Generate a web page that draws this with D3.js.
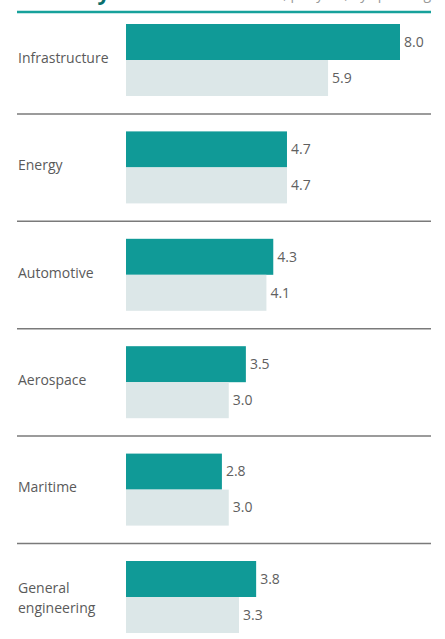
<!DOCTYPE html>
<html>
<head>
<meta charset="utf-8">
<script src="https://cdn.jsdelivr.net/npm/d3@7"></script>
<style>
  html, body { margin: 0; padding: 0; background: #fff; }
  svg { display: block; font-family: "Open Sans", "Noto Sans", sans-serif; }
</style>
</head>
<body>
<svg id="chart" width="445" height="639"></svg>
<script>
const categories = ["Infrastructure", "Energy", "Automotive", "Aerospace", "Maritime", "General engineering"];
const seriesNames = ["Current", "Previous"];
const currentValues = [8.0, 4.7, 4.3, 3.5, 2.8, 3.8];
const previousValues = [5.9, 4.7, 4.1, 3.0, 3.0, 3.3];
const seriesColors = ["#109a97", "#dce7e8"];

const svg = d3.select("#chart");
const left = 17, right = 431, barX0 = 126;

const x = d3.scaleLinear().domain([0, 8]).range([barX0, 400]);
const y = d3.scaleBand().domain(categories).range([6, 650.4]).padding(0);
const ySub = d3.scaleBand().domain(seriesNames).range([18, 90]).padding(0);

// Title remnants (clipped at the top edge, as in the reference)
svg.append("text").attr("x", left).attr("y", 0)
  .attr("font-size", 22).attr("font-weight", 700).attr("fill", "#0b6f6c")
  .text("Industry");
svg.append("text").attr("x", right).attr("y", -1.5).attr("text-anchor", "end")
  .attr("font-size", 14).attr("fill", "#999")
  .text("£bn, per year, by spending");

// Top teal rule
svg.append("line").attr("x1", left).attr("x2", right).attr("y1", 12).attr("y2", 12)
  .attr("stroke", "#17a19b").attr("stroke-width", 2.5);

const rows = categories.map((c, i) => ({
  cat: c,
  vals: [ {s: seriesNames[0], v: currentValues[i]}, {s: seriesNames[1], v: previousValues[i]} ]
}));

const g = svg.selectAll("g.row").data(rows).join("g")
  .attr("class", "row")
  .attr("transform", d => `translate(0,${y(d.cat)})`);

g.filter((d, i) => i > 0).append("line")
  .attr("x1", left).attr("x2", right).attr("y1", 0.5).attr("y2", 0.5)
  .attr("stroke", "#7a7a7a").attr("stroke-width", 1.5);

g.selectAll("rect").data(d => d.vals).join("rect")
  .attr("x", x(0))
  .attr("y", d => ySub(d.s))
  .attr("width", d => x(d.v) - x(0))
  .attr("height", ySub.bandwidth())
  .attr("fill", (d, i) => seriesColors[i]);

g.selectAll("text.val").data(d => d.vals).join("text")
  .attr("class", "val")
  .attr("x", d => x(d.v) + 4)
  .attr("y", d => ySub(d.s) + ySub.bandwidth() / 2)
  .attr("dy", "0.35em")
  .attr("font-size", 14).attr("fill", "#606060")
  .text(d => d3.format(".1f")(d.v));

g.each(function(d) {
  const t = d3.select(this).append("text")
    .attr("x", left + 1)
    .attr("font-size", 14).attr("fill", "#5a5a5a");
  const mid = ySub(seriesNames[1]) - 2;
  if (d.cat === "General engineering") {
    t.append("tspan").attr("x", left + 1).attr("y", mid - 7).attr("dy", "0.35em").text("General");
    t.append("tspan").attr("x", left + 1).attr("y", mid + 13).attr("dy", "0.35em").text("engineering");
  } else {
    t.attr("y", mid).attr("dy", "0.35em").text(d.cat);
  }
});
</script>
</body>
</html>
